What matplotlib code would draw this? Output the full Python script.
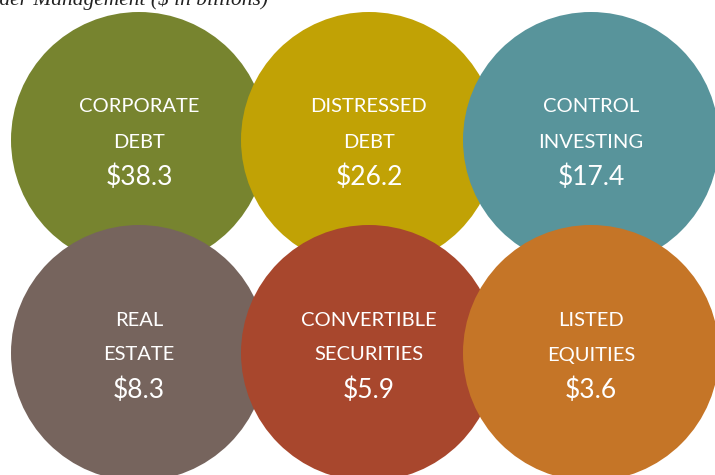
import matplotlib
matplotlib.use("Agg")
import matplotlib.pyplot as plt
from matplotlib.patches import Circle

# Data
categories_line1 = ["CORPORATE", "DISTRESSED", "CONTROL", "REAL", "CONVERTIBLE", "LISTED"]
categories_line2 = ["DEBT", "DEBT", "INVESTING", "ESTATE", "SECURITIES", "EQUITIES"]
values = [38.3, 26.2, 17.4, 8.3, 5.9, 3.6]
colors = ["#77842F", "#C1A205", "#58949B", "#76645D", "#A8472D", "#C57527"]
title = "Assets Under Management ($ in billions)"

# Layout (pixels)
W, H = 715, 475
col_x = [139, 369, 591]
row_y = [140, 353]
radius = 128

fig = plt.figure(figsize=(W / 100, H / 100), dpi=100)
ax = fig.add_axes([0, 0, 1, 1])
ax.set_xlim(0, W)
ax.set_ylim(H, 0)
ax.set_aspect("equal")
ax.axis("off")

label_font = ["Lato", "DejaVu Sans"]
for i, (l1, l2, v, c) in enumerate(zip(categories_line1, categories_line2, values, colors)):
    r, k = divmod(i, 3)
    cx, cy = col_x[k], row_y[r]
    ax.add_patch(Circle((cx, cy), radius, facecolor=c, edgecolor="none", zorder=1 + i))
    ax.text(cx, cy - 33, l1, color="white", fontsize=14.5, family=label_font,
            ha="center", va="center", zorder=10)
    ax.text(cx, cy + 2, l2, color="white", fontsize=14.5, family=label_font,
            ha="center", va="center", zorder=10)
    ax.text(cx, cy + 37, f"${v}", color="white", fontsize=19, family=label_font,
            ha="center", va="center", zorder=10)

ax.text(268, 5, title, fontsize=15.5, family=["Liberation Serif", "DejaVu Serif"],
        style="italic", ha="right", va="baseline", color="#222222", zorder=20)

fig.savefig("out.png", dpi=100)
